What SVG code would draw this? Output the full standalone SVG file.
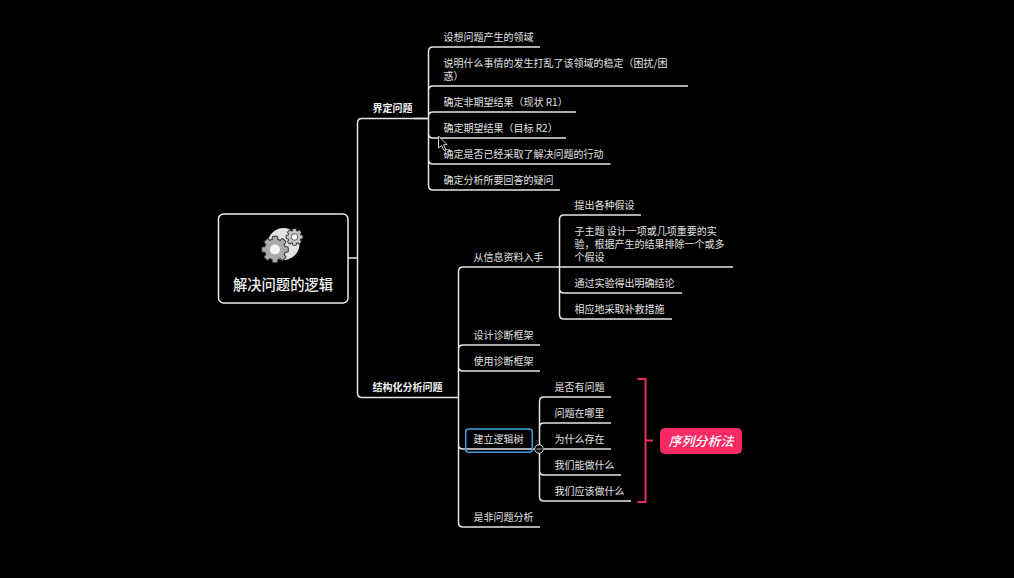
<svg xmlns="http://www.w3.org/2000/svg" width="1014" height="578" viewBox="0 0 1014 578">
<defs>
<style>
text{font-family:"Noto Sans CJK SC","Liberation Sans",sans-serif;fill:#e2e2e2;font-size:10px}
.b{font-weight:700;fill:#f2f2f2}
.c path,.c line{fill:none;stroke:#e6e6e6;stroke-width:1.5}
.b2{fill:none;stroke:#e8305f;stroke-width:2}
</style>
<g id="gear">
<circle r="10"/>
<rect x="-2.300" y="-12.800" width="4.600" height="5" rx="0.800"/>
<rect x="-2.300" y="-12.800" width="4.600" height="5" rx="0.800" transform="rotate(45)"/>
<rect x="-2.300" y="-12.800" width="4.600" height="5" rx="0.800" transform="rotate(90)"/>
<rect x="-2.300" y="-12.800" width="4.600" height="5" rx="0.800" transform="rotate(135)"/>
<rect x="-2.300" y="-12.800" width="4.600" height="5" rx="0.800" transform="rotate(180)"/>
<rect x="-2.300" y="-12.800" width="4.600" height="5" rx="0.800" transform="rotate(225)"/>
<rect x="-2.300" y="-12.800" width="4.600" height="5" rx="0.800" transform="rotate(270)"/>
<rect x="-2.300" y="-12.800" width="4.600" height="5" rx="0.800" transform="rotate(315)"/>
</g>
</defs>
<rect width="1014" height="578" fill="#000"/>
<g id="connectors" class="c">
<path d="M348 258H357M427 118.500H362Q357.500 118.500 357.500 123V393Q357.500 397.500 362 397.500H458"/>
<path d="M540 47H433Q428.500 47 428.500 51.500V185.500Q428.500 190 433 190H560M428.500 90.500Q428.500 86 433 86H688M428.500 116.500Q428.500 112 433 112H576M428.500 133.500Q428.500 138 433 138H566M428.500 159.500Q428.500 164 433 164H610.500M414 118.500H428"/>
<path d="M463 267H733M463 267Q458.500 267 458.500 271.500V522.500Q458.500 527 463 527H540M458.500 349.500Q458.500 345 463 345H540M458.500 366.500Q458.500 371 463 371H540M458.500 444.500Q458.500 449 463 449H534"/>
<path d="M641 215H564Q559.500 215 559.500 219.500V314.500Q559.500 319 564 319H672M559.500 288.500Q559.500 293 564 293H682"/>
<path d="M611 397H544Q539.500 397 539.500 401.500V496.500Q539.500 501 544 501H631M539.500 427.500Q539.500 423 544 423H611M544 449H611M539.500 470.500Q539.500 475 544 475H621"/>
</g>
<g id="root">
<rect x="218.500" y="214" width="129.500" height="89" rx="5" fill="#000" stroke="#ececec" stroke-width="1.500"/>
<circle cx="283.500" cy="244" r="16" fill="#e2e2e2"/>
<use href="#gear" transform="translate(275 249.500)" fill="#333" stroke="#333" stroke-width="2"/>
<use href="#gear" transform="translate(275 249.500)" fill="#a9abac"/>
<circle cx="275" cy="249.500" r="5" fill="#f5f5f5"/>
<use href="#gear" transform="translate(294.500 237) scale(.62)" fill="#333" stroke="#333" stroke-width="3"/>
<use href="#gear" transform="translate(294.500 237) scale(.62)" fill="#c4c5c6"/>
<circle cx="294.500" cy="237" r="3.300" fill="#f5f5f5" stroke="#444" stroke-width="0.800"/>
<text x="283" y="290" text-anchor="middle" style="font-size:14.300px;font-weight:500;fill:#f0f0f0">解决问题的逻辑</text>
</g>
<g id="branch1"><text class="b" x="372.500" y="112">界定问题</text></g>
<g id="leaf1"><text x="443.500" y="41">设想问题产生的领域</text></g>
<g id="leaf2"><text x="443.500" y="66.500">说明什么事情的发生打乱了该领域的稳定（困扰/困</text><text x="443.500" y="79.500">惑）</text></g>
<g id="leaf3"><text x="443.500" y="106">确定非期望结果（现状 R1）</text></g>
<g id="leaf4"><text x="443.500" y="132">确定期望结果（目标 R2）</text></g>
<g id="leaf5"><text x="443.500" y="158">确定是否已经采取了解决问题的行动</text></g>
<g id="leaf6"><text x="443.500" y="184">确定分析所要回答的疑问</text></g>
<g id="branch2"><text class="b" x="372.500" y="391">结构化分析问题</text></g>
<g id="n1"><text x="473.500" y="261">从信息资料入手</text></g>
<g id="n11"><text x="574.500" y="209">提出各种假设</text></g>
<g id="n12"><text x="574.500" y="235">子主题 设计一项或几项重要的实</text><text x="574.500" y="248">验，根据产生的结果排除一个或多</text><text x="574.500" y="261">个假设</text></g>
<g id="n13"><text x="574.500" y="287">通过实验得出明确结论</text></g>
<g id="n14"><text x="574.500" y="313">相应地采取补救措施</text></g>
<g id="n2"><text x="473.500" y="339">设计诊断框架</text></g>
<g id="n3"><text x="473.500" y="365">使用诊断框架</text></g>
<g id="n4">
<rect x="465.700" y="429" width="66.600" height="23.300" rx="3" fill="none" stroke="#3f9fd8" stroke-width="1.500"/>
<text x="473.500" y="443">建立逻辑树</text>
<circle cx="539" cy="449" r="4.300" fill="#000" stroke="#e6e6e6" stroke-width="1"/>
<line x1="536.500" y1="449" x2="541.500" y2="449" stroke="#e6e6e6" stroke-width="0.800"/>
</g>
<g id="n41"><text x="554.500" y="391">是否有问题</text></g>
<g id="n42"><text x="554.500" y="417">问题在哪里</text></g>
<g id="n43"><text x="554.500" y="443">为什么存在</text></g>
<g id="n44"><text x="554.500" y="469">我们能做什么</text></g>
<g id="n45"><text x="554.500" y="495">我们应该做什么</text></g>
<g id="n5"><text x="473.500" y="521">是非问题分析</text></g>
<g id="summary">
<path class="b2" d="M637.500 379H645.500V502H637.500M645.500 440.500H653"/>
<rect x="660" y="428" width="82" height="26" rx="5" fill="#f72a64"/>
<text x="701" y="445.500" text-anchor="middle" style="font-size:13px;font-style:italic;font-weight:500;fill:#fff">序列分析法</text>
</g>
<path id="cursor" d="M438.500 136V148L441.500 145.500L444 150.500L445.800 149.500L443.500 144.800L447 144.500Z" fill="#000" stroke="#cfcfcf" stroke-width="1"/>
</svg>
